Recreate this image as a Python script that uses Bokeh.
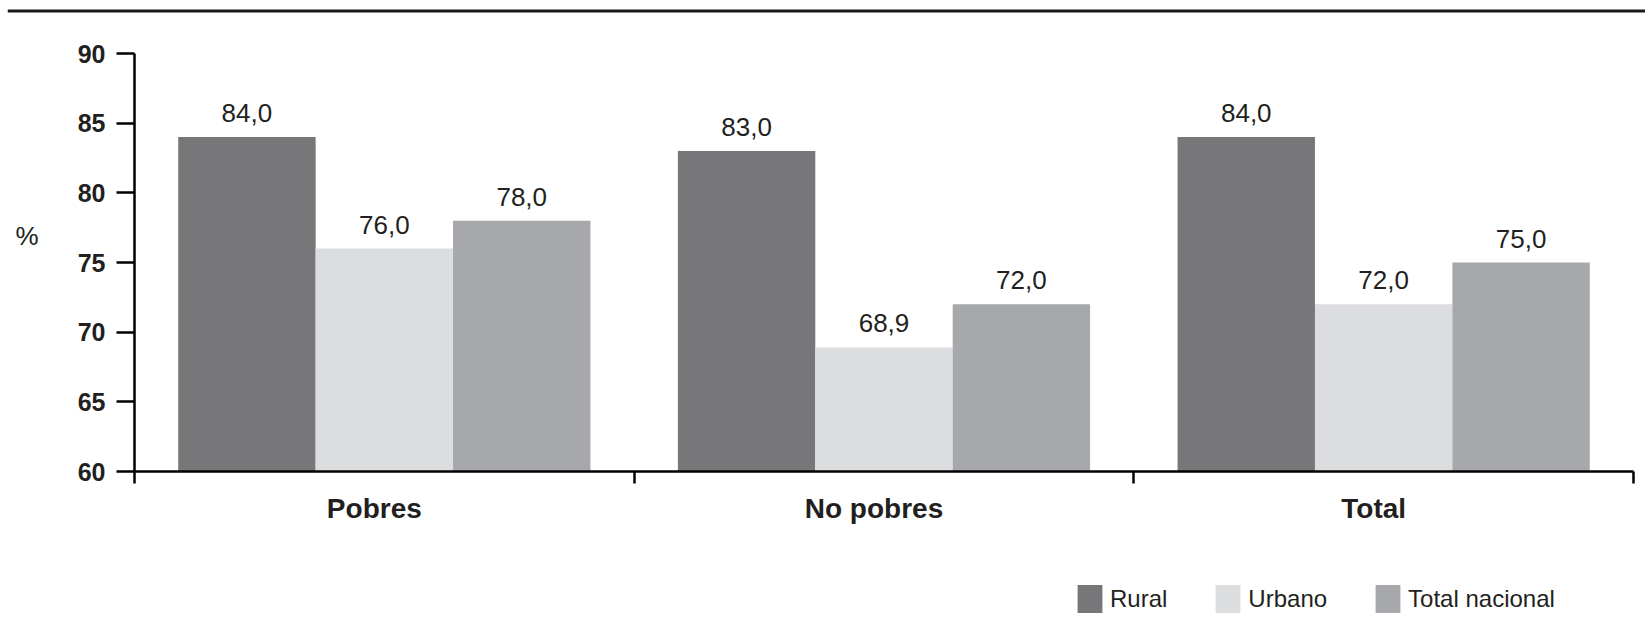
from bokeh.plotting import figure
from bokeh.models import (Range1d, FixedTicker, Legend, LegendItem, Label, Span,
                          ColumnDataSource)
from bokeh.core.properties import value
from bokeh.embed import file_html
from bokeh.resources import INLINE

# ---- data ----
categories = ["Pobres", "No pobres", "Total"]
series = ["Rural", "Urbano", "Total nacional"]
rural = [84.0, 83.0, 84.0]
urbano = [76.0, 68.9, 72.0]
total_nacional = [78.0, 72.0, 75.0]
y_ticks = [60, 65, 70, 75, 80, 85, 90]
y_label = "%"

colors = ["#77777a", "#dcdddf", "#a7a8ab"]
FONT = "Liberation Sans"
TXT = "#231f20"

# ---- layout geometry (page pixels; figure drawn at page origin) ----
W, H = 1645, 618
FL = 7                           # frame left edge (page px)
ax_left, ax_right = 134, 1633    # x of category 0 boundary and last boundary
y_top_px, y_bot_px = 53, 471     # pixel rows of the first and last y tick
n = len(categories)
ux = (ax_right - ax_left) / n
uy = (y_bot_px - y_top_px) / (y_ticks[-1] - y_ticks[0])
x_start = -(ax_left - FL) / ux
x_end = n + (W - ax_right) / ux
y_end = y_ticks[-1] + y_top_px / uy
y_start = y_ticks[0] - (H - y_bot_px) / uy

p = figure(width=W, height=H, output_backend="svg", toolbar_location=None,
           x_range=Range1d(x_start, x_end), y_range=Range1d(y_start, y_end),
           min_border_left=FL, min_border_right=0, min_border_top=0, min_border_bottom=0)
p.outline_line_color = None
p.xgrid.grid_line_color = None
p.ygrid.grid_line_color = None

bar_w = 0.275
offsets = [-bar_w, 0.0, bar_w]
renderers = []
for vals, off, col, name in zip([rural, urbano, total_nacional], offsets, colors, series):
    xs = [i + 0.5 + off for i in range(n)]
    src = ColumnDataSource(dict(x=xs, top=vals,
                                lab=[f"{v:.1f}".replace(".", ",") for v in vals]))
    r = p.vbar(x="x", top="top", bottom=y_ticks[0], width=bar_w, source=src,
               fill_color=col, line_color=None)
    renderers.append((name, r))
    p.text(x="x", y="top", text="lab", source=src, text_font=value(FONT),
           text_font_size="26px", text_align="center", text_baseline="bottom",
           y_offset=-15, text_color=TXT)

# y axis
ya = p.yaxis[0]
ya.fixed_location = 0
ya.bounds = (y_ticks[0], y_ticks[-1])
ya.ticker = FixedTicker(ticks=y_ticks)
ya.axis_line_width = 2.5
ya.axis_line_color = "black"
ya.major_tick_line_width = 2.5
ya.major_tick_line_color = "black"
ya.major_tick_out = 18
ya.major_tick_in = 0
ya.minor_tick_line_color = None
ya.major_label_text_font = FONT
ya.major_label_text_font_style = "bold"
ya.major_label_text_font_size = "25px"
ya.major_label_text_color = TXT
ya.major_label_standoff = 11

# x axis
xa = p.xaxis[0]
xa.fixed_location = y_ticks[0]
xa.bounds = (0, n)
label_shift = -10 / ux
label_pos = [i + 0.5 + label_shift for i in range(n)]
xa.ticker = FixedTicker(ticks=label_pos, minor_ticks=list(range(n + 1)))
xa.major_label_overrides = {c: name for c, name in zip(label_pos, categories)}
xa.axis_line_width = 2.5
xa.axis_line_color = "black"
xa.major_tick_out = 0
xa.major_tick_in = 0
xa.minor_tick_out = 12
xa.minor_tick_in = 0
xa.minor_tick_line_width = 2.5
xa.minor_tick_line_color = "black"
xa.major_label_text_font = FONT
xa.major_label_text_font_style = "bold"
xa.major_label_text_font_size = "28px"
xa.major_label_text_color = TXT
xa.major_label_standoff = 9

# "%" label
p.add_layout(Label(x=x_start + (15 - FL) / ux, y=76.9, text=y_label,
                   text_font=FONT, text_font_size="26px", text_color=TXT,
                   text_align="left", text_baseline="middle"))

# top rule
p.add_layout(Span(location=y_end - 10.5 / uy, dimension="width",
                  line_width=3, line_color="#1a1a1a"))

legend = Legend(items=[LegendItem(label=nm, renderers=[r]) for nm, r in renderers],
                orientation="horizontal", location=(1074 - FL, 2),
                glyph_width=31, glyph_height=35, label_standoff=5, spacing=45,
                padding=0, margin=0, border_line_color=None, background_fill_alpha=0,
                label_text_font=FONT, label_text_font_size="24px", label_text_color=TXT,
                label_height=35)
p.add_layout(legend)

open("out.html", "w").write(file_html(p, INLINE))
